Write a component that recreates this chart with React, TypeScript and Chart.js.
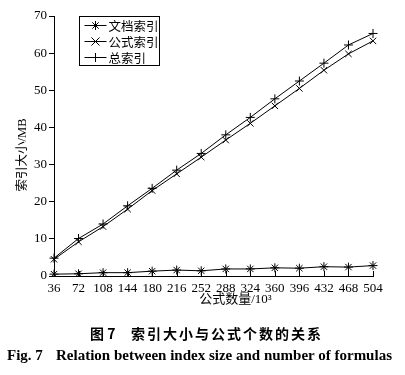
import { useEffect, useRef } from 'react';
import { Chart, registerables } from 'chart.js';
Chart.register(...registerables);

const categories = ['36', '72', '108', '144', '180', '216', '252', '288', '324', '360', '396', '432', '468', '504'];
const docIndex = [0.5, 0.6, 0.9, 0.9, 1.3, 1.6, 1.4, 1.9, 1.9, 2.2, 2.1, 2.5, 2.4, 2.8];
const formulaIndex = [4.5, 9.2, 13.3, 18.0, 23.0, 27.5, 32.0, 36.6, 41.1, 45.8, 50.5, 55.4, 59.8, 63.3];
const totalIndex = [4.8, 10.1, 14.0, 18.9, 23.6, 28.5, 33.0, 38.0, 42.7, 47.7, 52.5, 57.3, 62.2, 65.3];
const seriesNames = ['文档索引', '公式索引', '总索引'];
const seriesStyles = ['star', 'crossRot', 'cross'];
const yMin = 0;
const yMax = 70;
const yStep = 10;
const xTitle = '公式数量/10³';
const yTitle = '索引大小/MB';
const captionCnLabel = '图 7';
const captionCn = '索引大小与公式个数的关系';
const captionEnLabel = 'Fig. 7';
const captionEn = 'Relation between index size and number of formulas';

const SERIF = "'Liberation Serif', 'Noto Sans CJK SC', serif";

function drawMarker(ctx: CanvasRenderingContext2D, style: string, x: number, y: number, r: number) {
  const d = r * Math.SQRT1_2;
  ctx.beginPath();
  if (style === 'cross' || style === 'star') {
    ctx.moveTo(x - r, y);
    ctx.lineTo(x + r, y);
    ctx.moveTo(x, y - r);
    ctx.lineTo(x, y + r);
  }
  if (style === 'crossRot' || style === 'star') {
    const k = style === 'star' ? d : r * 0.9;
    ctx.moveTo(x - k, y - k);
    ctx.lineTo(x + k, y + k);
    ctx.moveTo(x - k, y + k);
    ctx.lineTo(x + k, y - k);
  }
  ctx.stroke();
}

const decorPlugin = {
  id: 'decor',
  afterDraw(chart: any) {
    const { ctx, chartArea } = chart;
    ctx.save();
    ctx.strokeStyle = '#000';
    ctx.fillStyle = '#000';
    ctx.lineWidth = 1;

    // inward x ticks
    const xs = chart.scales.x;
    for (let i = 0; i < categories.length; i++) {
      const x = Math.round(xs.getPixelForTick(i)) + 0.5;
      ctx.beginPath();
      ctx.moveTo(x, chartArea.bottom);
      ctx.lineTo(x, chartArea.bottom - 5);
      ctx.stroke();
    }

    // legend box
    const left = chartArea.left + 25.5;
    const top = chartArea.top + 0.5;
    ctx.strokeRect(left, top, 80, 49);
    ctx.font = "12.5px 'Noto Sans CJK SC'";
    ctx.textBaseline = 'middle';
    ctx.textAlign = 'left';
    chart.data.datasets.forEach((ds: any, i: number) => {
      const y = top + 9 + i * 16;
      ctx.beginPath();
      ctx.moveTo(left + 5, y);
      ctx.lineTo(left + 27, y);
      ctx.stroke();
      drawMarker(ctx, ds.pointStyle, left + 16, y, 4.5);
      ctx.fillText(ds.label, left + 29, y + 1);
    });

    // axis titles
    ctx.font = "13px " + SERIF;
    ctx.textAlign = 'center';
    ctx.textBaseline = 'middle';
    ctx.fillText(xTitle, (chartArea.left + chartArea.right) / 2 + 22, chartArea.bottom + 24);
    ctx.save();
    ctx.translate(23, (chartArea.top + chartArea.bottom) / 2 + 9);
    ctx.rotate(-Math.PI / 2);
    ctx.font = "12.5px " + SERIF;
    ctx.fillText(yTitle, 0, 0);
    ctx.restore();

    ctx.restore();
  },
};

export default function App() {
  const ref = useRef<HTMLCanvasElement>(null);
  useEffect(() => {
    if (!ref.current) return;
    const data = [docIndex, formulaIndex, totalIndex];
    const chart = new Chart(ref.current, {
      type: 'line',
      data: {
        labels: categories,
        datasets: data.map((d, i) => ({
          label: seriesNames[i],
          data: d,
          borderColor: '#000',
          backgroundColor: '#000',
          borderWidth: 1,
          pointStyle: seriesStyles[i] as any,
          pointRadius: 4.5,
          pointBorderWidth: 1,
          pointBorderColor: '#000',
          fill: false,
          tension: 0,
        })),
      },
      options: {
        responsive: false,
        animation: false,
        layout: { padding: { left: 0, top: 16, right: 32, bottom: 63 } },
        plugins: { legend: { display: false }, tooltip: { enabled: false } },
        scales: {
          x: {
            offset: false,
            grid: { display: false, drawTicks: false },
            border: { color: '#000', width: 1 },
            ticks: { color: '#000', padding: 5, maxRotation: 0, autoSkip: false, font: { family: SERIF, size: 13 } },
            afterFit: (s: any) => { s.height = 36; },
          },
          y: {
            min: yMin,
            max: yMax,
            grid: { display: true, drawOnChartArea: false, drawTicks: true, tickLength: 5, color: '#000' },
            border: { color: '#000', width: 1 },
            ticks: { stepSize: yStep, color: '#000', padding: 2, font: { family: SERIF, size: 13 } },
            afterFit: (s: any) => { s.width = 54; },
          },
        },
      },
      plugins: [decorPlugin],
    });
    return () => chart.destroy();
  }, []);
  const cn = { position: 'absolute' as const, top: 324, fontFamily: "'Noto Sans CJK SC'", fontWeight: 700, fontSize: 14, lineHeight: '18px', whiteSpace: 'pre' as const };
  const en = { position: 'absolute' as const, top: 346, fontFamily: "'Liberation Serif'", fontWeight: 700, fontSize: 15, lineHeight: '18px', whiteSpace: 'pre' as const };
  return (
    <div style={{ position: 'fixed', left: 0, top: 0, width: 405, height: 375, background: '#fff' }}>
      <canvas ref={ref} width={405} height={375} style={{ position: 'absolute', left: 0, top: 0 }} />
      <div style={{ ...cn, left: 90 }}>{captionCnLabel}</div>
      <div style={{ ...cn, left: 131, letterSpacing: 2 }}>{captionCn}</div>
      <div style={{ ...en, left: 7 }}>{captionEnLabel}</div>
      <div style={{ ...en, left: 56 }}>{captionEn}</div>
    </div>
  );
}
